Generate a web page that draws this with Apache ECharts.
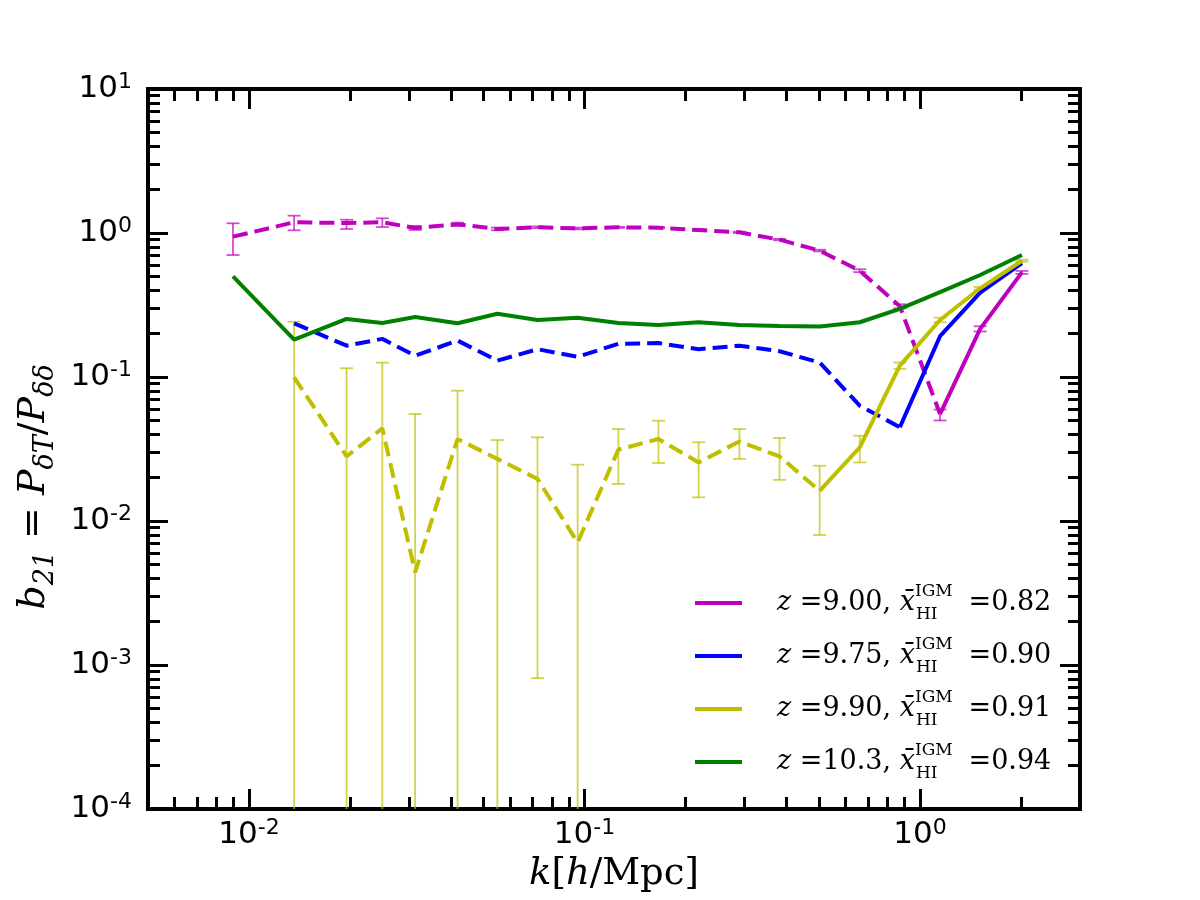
<!DOCTYPE html>
<html>
<head>
<meta charset="utf-8">
<title>b21 bias vs k</title>
<script src="https://cdn.jsdelivr.net/npm/echarts@6/dist/echarts.min.js"></script>
<style>
  html, body { margin: 0; padding: 0; background: #fff; }
  #chart { width: 1200px; height: 900px; }
</style>
</head>
<body>
<div id="chart"></div>
<script>
// wavenumber bins, k [h/Mpc]
const k = [0.00896, 0.01363, 0.01954, 0.02497, 0.03128, 0.04185, 0.0550, 0.07245, 0.09543, 0.1262,
           0.1662, 0.2189, 0.2896, 0.3815, 0.5024, 0.6616, 0.8712, 1.148, 1.512, 2.014];

// |b21| for each redshift; dashed (negative bias) up to the split index, solid from it on
const b_z900 = [0.943, 1.187, 1.173, 1.187, 1.083, 1.149, 1.066, 1.095, 1.078, 1.095,
                1.088, 1.049, 1.011, 0.899, 0.754, 0.547, 0.310, 0.0553, 0.2157, 0.533];
const lo_z900 = [0.703, 1.044, 1.066, 1.10, 1.05, 1.12, 1.045, 1.08, 1.06, 1.085,
                 1.08, 1.04, 1.0, 0.89, 0.745, 0.535, 0.30, 0.0499, 0.207, 0.52];
const hi_z900 = [1.168, 1.319, 1.237, 1.265, 1.12, 1.18, 1.09, 1.11, 1.09, 1.105,
                 1.10, 1.06, 1.02, 0.91, 0.765, 0.56, 0.32, 0.0594, 0.225, 0.545];
const split_z900 = 17;

const b_z975 = [null, 0.236, 0.165, 0.184, 0.1406, 0.179, 0.130, 0.156, 0.138, 0.170,
                0.172, 0.156, 0.165, 0.151, 0.126, 0.0632, 0.0448, 0.192, 0.385, 0.619];
const split_z975 = 16;

// lower bound 0 means the bar runs below the axis
const b_z990 = [null, 0.0995, 0.0281, 0.0440, 0.0044, 0.0371, 0.027, 0.0196, 0.0071, 0.0313,
                0.0371, 0.0255, 0.0357, 0.0281, 0.0162, 0.0325, 0.120, 0.249, 0.413, 0.642];
const lo_z990 = [null, 0, 0, 0, 0, 0, 0, 0.00081, 0, 0.0181,
                 0.0253, 0.0146, 0.0270, 0.0193, 0.0080, 0.0255, 0.114, 0.240, 0.405, 0.632];
const hi_z990 = [null, 0.242, 0.115, 0.1257, 0.0553, 0.0803, 0.0365, 0.0381, 0.0246, 0.0435,
                 0.0497, 0.0352, 0.0435, 0.0377, 0.0242, 0.0391, 0.126, 0.258, 0.422, 0.652];
const split_z990 = 14;

const b_z1030 = [0.50, 0.182, 0.253, 0.237, 0.261, 0.236, 0.275, 0.249, 0.258, 0.237,
                 0.230, 0.240, 0.230, 0.226, 0.224, 0.240, 0.297, 0.388, 0.511, 0.704];
const split_z1030 = -1;

// legend text pieces
const zLabels = ['9.00', '9.75', '9.90', '10.3'];
const xhiLabels = ['0.82', '0.90', '0.91', '0.94'];

// axis ranges and ticks
const xMin = 0.005, xMax = 3, yMin = 1e-4, yMax = 10;
const xMajor = [0.01, 0.1, 1];
const yMajor = [1e-4, 1e-3, 1e-2, 1e-1, 1, 10];

function minorTicks(lo, hi, e0, e1) {
  const out = [];
  for (let e = e0; e <= e1; e++) {
    for (let m = 2; m <= 9; m++) {
      const v = m * Math.pow(10, e);
      if (v > lo * 1.0001 && v < hi * 0.9999) out.push(v);
    }
  }
  return out;
}
const xMinor = minorTicks(xMin, xMax, -3, 0);
const yMinor = minorTicks(yMin, yMax, -4, 0);

const sets = [
  { name: 'z900', color: '#bf00bf', b: b_z900, split: split_z900, lo: lo_z900, hi: hi_z900 },
  { name: 'z975', color: '#0000ff', b: b_z975, split: split_z975 },
  { name: 'z990', color: '#bfbf00', b: b_z990, split: split_z990, lo: lo_z990, hi: hi_z990 },
  { name: 'z1030', color: '#008000', b: b_z1030, split: split_z1030 }
];

const serif = 'DejaVu Serif';
const sans = 'DejaVu Sans';

const powLabel = v => '{b|10}{s|' + Math.round(Math.log10(v)) + '}';
const labelRich = {
  b: { fontFamily: sans, fontSize: 31, color: '#000', lineHeight: 36 },
  s: { fontFamily: sans, fontSize: 22, color: '#000', lineHeight: 22, verticalAlign: 'top' }
};

const tick = (vals, len) => ({
  show: true, inside: true, length: len, customValues: vals,
  lineStyle: { color: '#000', width: 3 }
});

const baseX = {
  type: 'log', logBase: 10, min: xMin, max: xMax,
  axisLine: { show: false, onZero: false }, splitLine: { show: false },
  axisLabel: { show: false }
};
const baseY = {
  type: 'log', logBase: 10, min: yMin, max: yMax,
  axisLine: { show: false, onZero: false }, splitLine: { show: false },
  axisLabel: { show: false }
};

function errRenderItem(params, api) {
  const x = api.value(0);
  const loRaw = api.value(1);
  const hi = api.value(2);
  const lo = loRaw > yMin ? loRaw : yMin;
  const top = api.coord([x, hi]);
  const bot = api.coord([x, lo]);
  const cap = 6.5;
  const style = { stroke: api.visual('color'), lineWidth: 1.8, opacity: 0.7 };
  const children = [
    { type: 'line', shape: { x1: top[0], y1: top[1], x2: bot[0], y2: bot[1] }, style: style },
    { type: 'line', shape: { x1: top[0] - cap, y1: top[1], x2: top[0] + cap, y2: top[1] }, style: style }
  ];
  if (loRaw > yMin) {
    children.push({ type: 'line', shape: { x1: bot[0] - cap, y1: bot[1], x2: bot[0] + cap, y2: bot[1] }, style: style });
  }
  return { type: 'group', children: children };
}

const series = [];
sets.forEach(function (s) {
  const dashed = [], solid = [];
  k.forEach(function (kv, i) {
    if (s.b[i] == null) return;
    if (i <= s.split) dashed.push([kv, s.b[i]]);
    if (i >= s.split) solid.push([kv, s.b[i]]);
  });
  if (s.lo) {
    const errData = [];
    k.forEach(function (kv, i) {
      if (s.lo[i] != null) errData.push([kv, s.lo[i], s.hi[i]]);
    });
    series.push({
      name: s.name + '-err', type: 'custom', renderItem: errRenderItem,
      data: errData, encode: { x: 0, y: 2 }, itemStyle: { color: s.color }, z: 2, silent: true
    });
  }
  if (dashed.length) {
    series.push({
      name: s.name + '-neg', type: 'line', data: dashed, showSymbol: false, symbol: 'none',
      lineStyle: { color: s.color, width: 4, type: [15, 7] }, itemStyle: { color: s.color },
      z: 3, silent: true
    });
  }
  series.push({
    name: s.name, type: 'line', data: solid, showSymbol: false, symbol: 'none',
    lineStyle: { color: s.color, width: 4 }, itemStyle: { color: s.color }, z: 3, silent: true
  });
});

const legendText = {};
sets.forEach(function (s, i) {
  legendText[s.name] = '{g|}{it|z}{r| =' + zLabels[i] + ', }{it|x\u0304}{sup|IGM}{sub|HI}{r| =' + xhiLabels[i] + '}';
});

const option = {
  backgroundColor: '#fff',
  animation: false,
  grid: {
    left: 148, top: 89, width: 932, height: 720,
    show: true, borderColor: '#000', borderWidth: 4, backgroundColor: 'transparent',
    outerBoundsMode: 'none'
  },
  legend: {
    data: sets.map(s => s.name),
    orient: 'vertical', left: 690, top: 578,
    icon: 'rect', itemWidth: 47, itemHeight: 4, itemGap: 13,
    selectedMode: false,
    formatter: name => legendText[name],
    textStyle: {
      color: '#000',
      rich: {
        g: { width: 30 },
        it: { fontFamily: serif, fontStyle: 'italic', fontSize: 27, lineHeight: 40, color: '#000' },
        r: { fontFamily: serif, fontSize: 27, lineHeight: 40, color: '#000' },
        sup: { fontFamily: serif, fontSize: 17, lineHeight: 18, verticalAlign: 'top', width: 1, align: 'left', color: '#000' },
        sub: { fontFamily: serif, fontSize: 17, lineHeight: 18, verticalAlign: 'bottom', width: 44, align: 'left', color: '#000' }
      }
    }
  },
  xAxis: [
    Object.assign({}, baseX, {
      position: 'bottom', axisTick: tick(xMajor, 20),
      axisLabel: { show: true, customValues: xMajor, formatter: powLabel, rich: labelRich, margin: 8 },
      name: '{it|k}{r|[}{it|h}{r|/Mpc]}', nameLocation: 'middle', nameGap: 44,
      nameTextStyle: {
        rich: {
          it: { fontFamily: serif, fontStyle: 'italic', fontSize: 37, color: '#000' },
          r: { fontFamily: serif, fontSize: 37, color: '#000' }
        }
      }
    }),
    Object.assign({}, baseX, { position: 'bottom', axisTick: tick(xMinor, 12) }),
    Object.assign({}, baseX, { position: 'top', axisTick: tick(xMajor, 20) }),
    Object.assign({}, baseX, { position: 'top', axisTick: tick(xMinor, 12) })
  ],
  yAxis: [
    Object.assign({}, baseY, {
      position: 'left', axisTick: tick(yMajor, 20),
      axisLabel: { show: true, customValues: yMajor, formatter: powLabel, rich: labelRich, margin: 16 },
      name: '{it|b}{sub|21}{r| = }{it|P}{sub|\u03b4T}{r|/}{it|P}{sub|\u03b4\u03b4}',
      nameLocation: 'middle', nameRotate: 90, nameGap: 60,
      nameTextStyle: {
        padding: [0, 76, 0, 0],
        rich: {
          it: { fontFamily: serif, fontStyle: 'italic', fontSize: 38, lineHeight: 52, color: '#000' },
          r: { fontFamily: serif, fontSize: 38, lineHeight: 52, color: '#000' },
          sub: { fontFamily: serif, fontStyle: 'italic', fontSize: 27, lineHeight: 28, verticalAlign: 'bottom', color: '#000' }
        }
      }
    }),
    Object.assign({}, baseY, { position: 'left', axisTick: tick(yMinor, 12) }),
    Object.assign({}, baseY, { position: 'right', axisTick: tick(yMajor, 20) }),
    Object.assign({}, baseY, { position: 'right', axisTick: tick(yMinor, 12) })
  ],
  series: series
};

const chart = echarts.init(document.getElementById('chart'));
chart.setOption(option);
</script>
</body>
</html>
